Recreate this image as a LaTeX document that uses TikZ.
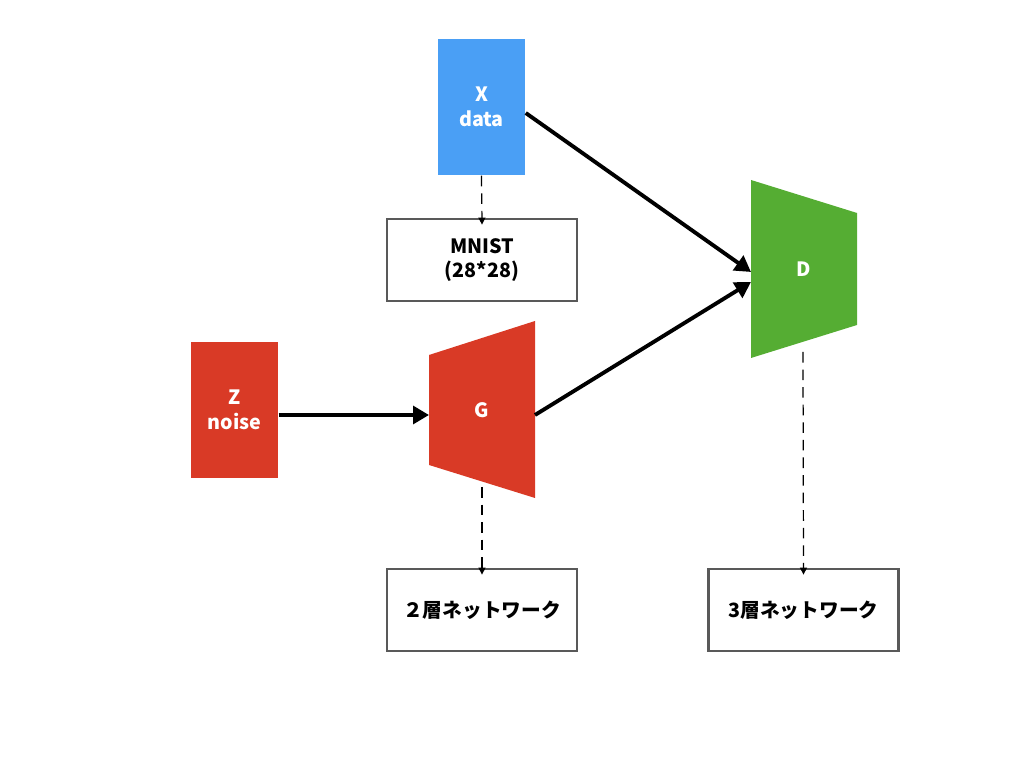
\documentclass[tikz,border=0pt]{standalone}
\usepackage{fontspec}
\setmainfont{Noto Sans CJK JP}
\usetikzlibrary{arrows.meta, positioning}
\definecolor{dataBlue}{HTML}{4A9FF5}
\definecolor{genRed}{HTML}{D93A26}
\definecolor{disGreen}{HTML}{55AD33}
\begin{document}
\begin{tikzpicture}[x=0.01cm,y=-0.01cm,
  every node/.style={font=\fontsize{5.6}{7}\selectfont\bfseries},
  block/.style={minimum width=0.87cm,minimum height=1.36cm,inner sep=0pt,text=white,align=center},
  note/.style={draw=black!65,line width=0.8pt,minimum width=1.9cm,minimum height=0.82cm,inner sep=0pt,align=center},
  flow/.style={line width=1.1pt,-{Triangle[length=4.5pt,width=5pt]}},
  link/.style={densely dashed,line width=0.35pt,-{Triangle[length=2pt,width=2pt]}}]
\useasboundingbox (0,0) rectangle (1024,768);
% inputs
\node[block,fill=dataBlue] (x) at (481.5,107) {X\\data};
\node[block,fill=genRed] (z) at (234.5,410) {Z\\noise};
% networks
\fill[genRed] (429,355) -- (535,321) -- (535,498) -- (429,465) -- cycle;
\node[text=white] (g) at (482,410) {G};
\fill[disGreen] (751,180) -- (857,213) -- (857,325) -- (751,358) -- cycle;
\node[text=white] (d) at (804,269) {D};
\coordinate (gin) at (429,415);
\coordinate (gout) at (535,415);
\coordinate (gbot) at (482,487);
\coordinate (din1) at (751,272);
\coordinate (din2) at (751,282);
\coordinate (dbot) at (803,352);
% notes
\node[note] (mnist) at (482,260) {MNIST\\(28*28)};
\node[note] (g2) at (482,610) {２層ネットワーク};
\node[note] (d3) at (803.5,610) {3層ネットワーク};
% connectors
\draw[flow] (x.east |- 0,113) -- (din1);
\draw[flow] (gout) -- (din2);
\draw[flow] (z.east |- gin) -- (gin);
\draw[link] (x.south) -- ([yshift=-2pt]mnist.north);
\draw[link] (gbot) -- ([yshift=-2pt]g2.north);
\draw[link] (dbot) -- ([yshift=-2pt]d3.north);
\end{tikzpicture}
\end{document}
